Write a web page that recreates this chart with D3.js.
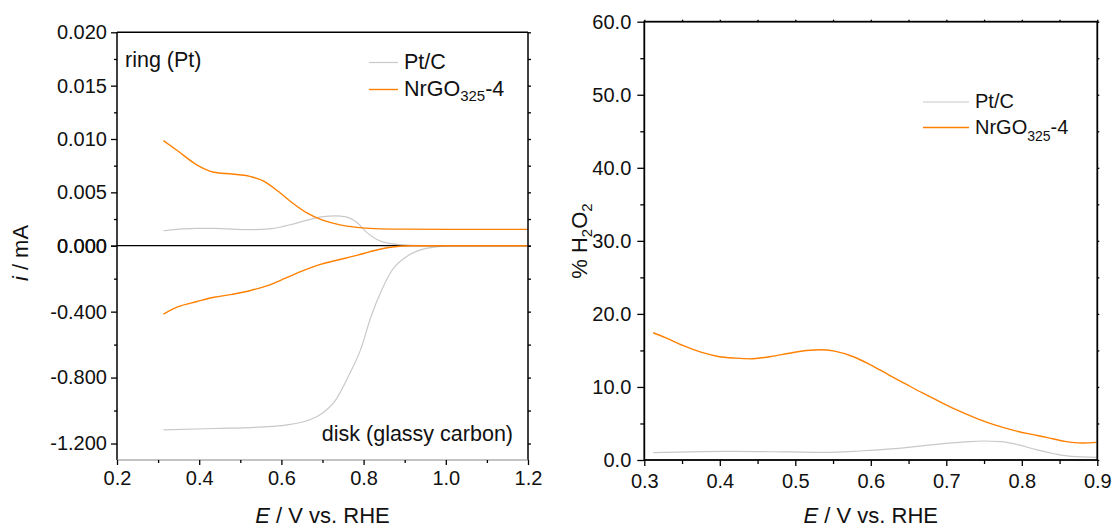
<!DOCTYPE html>
<html>
<head>
<meta charset="utf-8">
<script src="https://cdn.jsdelivr.net/npm/d3@7"></script>
<style>
  html, body { margin: 0; padding: 0; background: #fff; }
  svg { display: block; font-family: "Liberation Sans", Arial, sans-serif; }
</style>
</head>
<body>
<svg id="chart" width="1113" height="529"></svg>
<script>
// ---- Ring currents (Pt ring), mA ----
const ringNrgoE   = [0.313, 0.349, 0.393, 0.436, 0.480, 0.523, 0.558, 0.592, 0.627, 0.662, 0.697, 0.740, 0.783, 0.827, 0.900, 1.000, 1.100, 1.200];
const ringNrgo    = [0.00985, 0.00885, 0.0076, 0.00688, 0.00672, 0.0065, 0.00603, 0.0051, 0.0040, 0.00307, 0.00244, 0.00197, 0.00172, 0.0016, 0.00155, 0.00153, 0.00153, 0.00153];
const ringPtE     = [0.313, 0.393, 0.436, 0.523, 0.575, 0.635, 0.697, 0.731, 0.757, 0.783, 0.809, 0.843, 0.887, 0.950, 1.200];
const ringPt      = [0.0014, 0.00162, 0.00162, 0.0015, 0.0016, 0.0021, 0.0027, 0.0028, 0.0027, 0.0022, 0.0012, 0.0004, 0.0001, 0, 0];

// ---- Disk currents (glassy carbon), mA ----
const diskNrgoE   = [0.313, 0.349, 0.393, 0.436, 0.480, 0.523, 0.566, 0.610, 0.653, 0.697, 0.740, 0.783, 0.827, 0.870, 0.913, 1.200];
const diskNrgo    = [-0.415, -0.370, -0.340, -0.313, -0.295, -0.273, -0.242, -0.197, -0.151, -0.112, -0.085, -0.059, -0.029, -0.008, 0, 0];
const diskPtE     = [0.313, 0.436, 0.558, 0.610, 0.662, 0.697, 0.731, 0.766, 0.792, 0.818, 0.844, 0.870, 0.905, 0.940, 0.975, 1.009, 1.200];
const diskPt      = [-1.117, -1.109, -1.099, -1.088, -1.062, -1.021, -0.940, -0.777, -0.635, -0.431, -0.269, -0.146, -0.065, -0.024, -0.008, 0, 0];

// ---- Peroxide yield, % H2O2 ----
const h2o2NrgoE   = [0.3117, 0.328, 0.351, 0.375, 0.398, 0.421, 0.440, 0.468, 0.492, 0.515, 0.534, 0.552, 0.576, 0.599, 0.623, 0.646, 0.669, 0.693, 0.716, 0.740, 0.763, 0.787, 0.810, 0.833, 0.857, 0.880, 0.899];
const h2o2Nrgo    = [17.42, 16.74, 15.68, 14.76, 14.17, 13.94, 13.85, 14.17, 14.62, 14.99, 15.09, 14.90, 14.17, 13.07, 11.70, 10.42, 9.14, 7.90, 6.76, 5.71, 4.84, 4.12, 3.57, 3.10, 2.55, 2.33, 2.41];
const h2o2PtE     = [0.3117, 0.375, 0.421, 0.492, 0.538, 0.585, 0.632, 0.679, 0.725, 0.749, 0.772, 0.796, 0.819, 0.843, 0.866, 0.899];
const h2o2Pt      = [1.0, 1.14, 1.18, 1.10, 1.04, 1.23, 1.55, 2.06, 2.47, 2.6, 2.51, 2.06, 1.41, 0.86, 0.49, 0.36];

// ---- Tick values ----
const leftXTicks   = [0.2, 0.4, 0.6, 0.8, 1.0, 1.2];
const leftXMinor   = [0.3, 0.5, 0.7, 0.9, 1.1];
const ringTicks    = [0, 0.005, 0.010, 0.015, 0.020];
const ringMinor    = [0.0025, 0.0075, 0.0125, 0.0175];
const diskTicks    = [0, -0.4, -0.8, -1.2];
const diskMinor    = [-0.2, -0.6, -1.0];
const rightXTicks  = [0.3, 0.4, 0.5, 0.6, 0.7, 0.8, 0.9];
const rightXMinor  = [0.35, 0.45, 0.55, 0.65, 0.75, 0.85];
const h2o2Ticks    = [0, 10, 20, 30, 40, 50, 60];
const h2o2Minor    = [5, 15, 25, 35, 45, 55];

const seriesNames  = ["Pt/C", "NrGO"];
const colPt   = "#c9c9c9";
const colNrgo = "#ff8000";
const FS = 20;      // tick labels
const FS_T = 22;    // axis titles
const FS_A = 21.5;  // left-panel annotations and legend

const svg = d3.select("#chart");
const zip = (xs, ys) => xs.map((x, i) => [x, ys[i]]);
// fixed-decimal labels with a plain hyphen for negatives
const fixed = n => v => v.toFixed(n);

// ================= Left panel: RRDE currents =================
const L = {x0: 117, x1: 528, top: 32.3, zero: 245.7, bottom: 460};
const xL = d3.scaleLinear().domain([0.2, 1.2]).range([L.x0, L.x1]);
const yRing = d3.scaleLinear().domain([0, 0.02]).range([L.zero, L.top]);
const yDisk = d3.scaleLinear().domain([-1.3, 0]).range([L.bottom, L.zero]);

const gl = svg.append("g");

// curves
const lineRing = d3.line().x(d => xL(d[0])).y(d => yRing(d[1])).curve(d3.curveMonotoneX);
const lineDisk = d3.line().x(d => xL(d[0])).y(d => yDisk(d[1])).curve(d3.curveMonotoneX);

gl.append("path").attr("d", lineRing(zip(ringPtE, ringPt)))
  .attr("fill", "none").attr("stroke", colPt).attr("stroke-width", 1.2);
gl.append("path").attr("d", lineDisk(zip(diskPtE, diskPt)))
  .attr("fill", "none").attr("stroke", colPt).attr("stroke-width", 1.2);

// zero line separating ring and disk
gl.append("line").attr("x1", L.x0).attr("x2", L.x1).attr("y1", L.zero).attr("y2", L.zero)
  .attr("stroke", "#000").attr("stroke-width", 1.3);

gl.append("path").attr("d", lineRing(zip(ringNrgoE, ringNrgo)))
  .attr("fill", "none").attr("stroke", colNrgo).attr("stroke-width", 1.4);
gl.append("path").attr("d", lineDisk(zip(diskNrgoE, diskNrgo)))
  .attr("fill", "none").attr("stroke", colNrgo).attr("stroke-width", 1.4);

// frame
gl.append("line").attr("x1", L.x0).attr("x2", L.x1).attr("y1", L.top).attr("y2", L.top)
  .attr("stroke", "#000").attr("stroke-width", 1.5);
gl.append("line").attr("x1", L.x0).attr("x2", L.x0).attr("y1", L.top).attr("y2", L.bottom)
  .attr("stroke", "#000").attr("stroke-width", 1.5);
gl.append("line").attr("x1", L.x1).attr("x2", L.x1).attr("y1", L.top).attr("y2", L.bottom)
  .attr("stroke", "#000").attr("stroke-width", 1.5);
gl.append("line").attr("x1", L.x0).attr("x2", L.x1).attr("y1", L.bottom).attr("y2", L.bottom)
  .attr("stroke", "#888").attr("stroke-width", 1);

// axes
function styleAxis(g) {
  g.select(".domain").remove();
  g.selectAll(".tick line").attr("stroke", "#000").attr("stroke-width", 1.3);
  g.selectAll(".tick text").attr("fill", "#111").attr("font-size", FS)
    .attr("font-family", '"Liberation Sans", Arial, sans-serif');
}
function minorAxis(axisFn, scale, vals, len) {
  return axisFn(scale).tickValues(vals).tickSize(len).tickFormat("");
}

gl.append("g").attr("transform", `translate(${L.x0},0)`)
  .call(d3.axisLeft(yRing).tickValues(ringTicks).tickSize(6).tickPadding(4).tickFormat(fixed(3)))
  .call(styleAxis);
gl.append("g").attr("transform", `translate(${L.x0},0)`)
  .call(d3.axisLeft(yDisk).tickValues(diskTicks).tickSize(6).tickPadding(4).tickFormat(fixed(3)))
  .call(styleAxis);
gl.append("g").attr("transform", `translate(${L.x0},0)`).call(minorAxis(d3.axisLeft, yRing, ringMinor, 3)).call(styleAxis);
gl.append("g").attr("transform", `translate(${L.x0},0)`).call(minorAxis(d3.axisLeft, yDisk, diskMinor, 3)).call(styleAxis);
// right side ticks
gl.append("g").attr("transform", `translate(${L.x1},0)`).call(minorAxis(d3.axisRight, yRing, ringTicks.concat(ringMinor), 3)).call(styleAxis);
gl.append("g").attr("transform", `translate(${L.x1},0)`).call(minorAxis(d3.axisRight, yDisk, diskTicks.concat(diskMinor), 3)).call(styleAxis);

gl.append("g").attr("transform", `translate(0,${L.bottom})`)
  .call(d3.axisBottom(xL).tickValues(leftXTicks).tickSize(5).tickPadding(6).tickFormat(fixed(1)))
  .call(styleAxis);
gl.append("g").attr("transform", `translate(0,${L.bottom})`).call(minorAxis(d3.axisBottom, xL, leftXMinor, 3)).call(styleAxis);

// axis titles
const tl = gl.append("text").attr("x", (L.x0 + L.x1) / 2).attr("y", 523)
  .attr("text-anchor", "middle").attr("font-size", FS_T).attr("fill", "#111");
tl.append("tspan").attr("font-style", "italic").text("E");
tl.append("tspan").text(" / V vs. RHE");

const yl = gl.append("text").attr("transform", "translate(28,253) rotate(-90)")
  .attr("text-anchor", "middle").attr("font-size", FS_T).attr("fill", "#111");
yl.append("tspan").attr("font-style", "italic").text("i");
yl.append("tspan").text(" / mA");

// annotations
gl.append("text").attr("x", 125).attr("y", 66.5).attr("font-size", FS_A).attr("fill", "#111").text("ring (Pt)");
gl.append("text").attr("x", 513).attr("y", 441).attr("text-anchor", "end")
  .attr("font-size", FS_A).attr("fill", "#111").text("disk (glassy carbon)");

// legend
function legend(g, x0, x1, xt, rows, fs, subFs, subDy) {
  rows.forEach((r, i) => {
    g.append("line").attr("x1", x0).attr("x2", x1).attr("y1", r.y).attr("y2", r.y)
      .attr("stroke", r.color).attr("stroke-width", r.w);
    const t = g.append("text").attr("x", xt).attr("y", r.y + 6).attr("font-size", fs).attr("fill", "#111");
    if (r.sub) {
      t.append("tspan").text(r.name);
      t.append("tspan").attr("font-size", subFs).attr("dy", subDy).text(r.sub);
      t.append("tspan").attr("dy", -subDy).text(r.tail);
    } else {
      t.text(r.name);
    }
  });
}
legend(gl, 369, 398, 404, [
  {y: 62.5, color: colPt, w: 1.2, name: seriesNames[0]},
  {y: 89.5, color: colNrgo, w: 1.4, name: seriesNames[1], sub: "325", tail: "-4"}
], FS_A, 15, 5);

// ================= Right panel: peroxide yield =================
const R = {x0: 644.3, x1: 1097.3, top: 21.7, bottom: 460};
const xR = d3.scaleLinear().domain([0.3, 0.9]).range([R.x0, R.x1]);
const yR = d3.scaleLinear().domain([0, 60]).range([R.bottom, R.top]);
const gr = svg.append("g");

const lineR = d3.line().x(d => xR(d[0])).y(d => yR(d[1])).curve(d3.curveMonotoneX);
gr.append("path").attr("d", lineR(zip(h2o2PtE, h2o2Pt)))
  .attr("fill", "none").attr("stroke", colPt).attr("stroke-width", 1.2);
gr.append("path").attr("d", lineR(zip(h2o2NrgoE, h2o2Nrgo)))
  .attr("fill", "none").attr("stroke", colNrgo).attr("stroke-width", 1.4);

gr.append("rect").attr("x", R.x0).attr("y", R.top).attr("width", R.x1 - R.x0).attr("height", R.bottom - R.top)
  .attr("fill", "none").attr("stroke", "#000").attr("stroke-width", 1.8);

gr.append("g").attr("transform", `translate(${R.x0},0)`)
  .call(d3.axisLeft(yR).tickValues(h2o2Ticks).tickSize(7).tickPadding(6).tickFormat(fixed(1)))
  .call(styleAxis);
gr.append("g").attr("transform", `translate(${R.x0},0)`).call(minorAxis(d3.axisLeft, yR, h2o2Minor, 4)).call(styleAxis);
gr.append("g").attr("transform", `translate(${R.x1},0)`).call(minorAxis(d3.axisRight, yR, h2o2Ticks.concat(h2o2Minor), 2)).call(styleAxis);

gr.append("g").attr("transform", `translate(0,${R.bottom})`)
  .call(d3.axisBottom(xR).tickValues(rightXTicks).tickSize(6).tickPadding(8).tickFormat(fixed(1)))
  .call(styleAxis);
gr.append("g").attr("transform", `translate(0,${R.bottom})`).call(minorAxis(d3.axisBottom, xR, rightXMinor, 4)).call(styleAxis);
gr.append("g").attr("transform", `translate(0,${R.top})`).call(minorAxis(d3.axisTop, xR, rightXTicks.concat(rightXMinor), 2)).call(styleAxis);

const tr = gr.append("text").attr("x", (R.x0 + R.x1) / 2).attr("y", 523)
  .attr("text-anchor", "middle").attr("font-size", FS_T).attr("fill", "#111");
tr.append("tspan").attr("font-style", "italic").text("E");
tr.append("tspan").text(" / V vs. RHE");

const yr = gr.append("text").attr("transform", "translate(587,241) rotate(-90)")
  .attr("text-anchor", "middle").attr("font-size", FS_T).attr("fill", "#111");
yr.append("tspan").text("% H");
yr.append("tspan").attr("font-size", 15).attr("dy", 5).text("2");
yr.append("tspan").attr("dy", -5).text("O");
yr.append("tspan").attr("font-size", 15).attr("dy", 5).text("2");

legend(gr, 923, 969, 975, [
  {y: 102, color: colPt, w: 1.2, name: seriesNames[0]},
  {y: 127.5, color: colNrgo, w: 1.4, name: seriesNames[1], sub: "325", tail: "-4"}
], FS, 14, 7);
</script>
</body>
</html>
